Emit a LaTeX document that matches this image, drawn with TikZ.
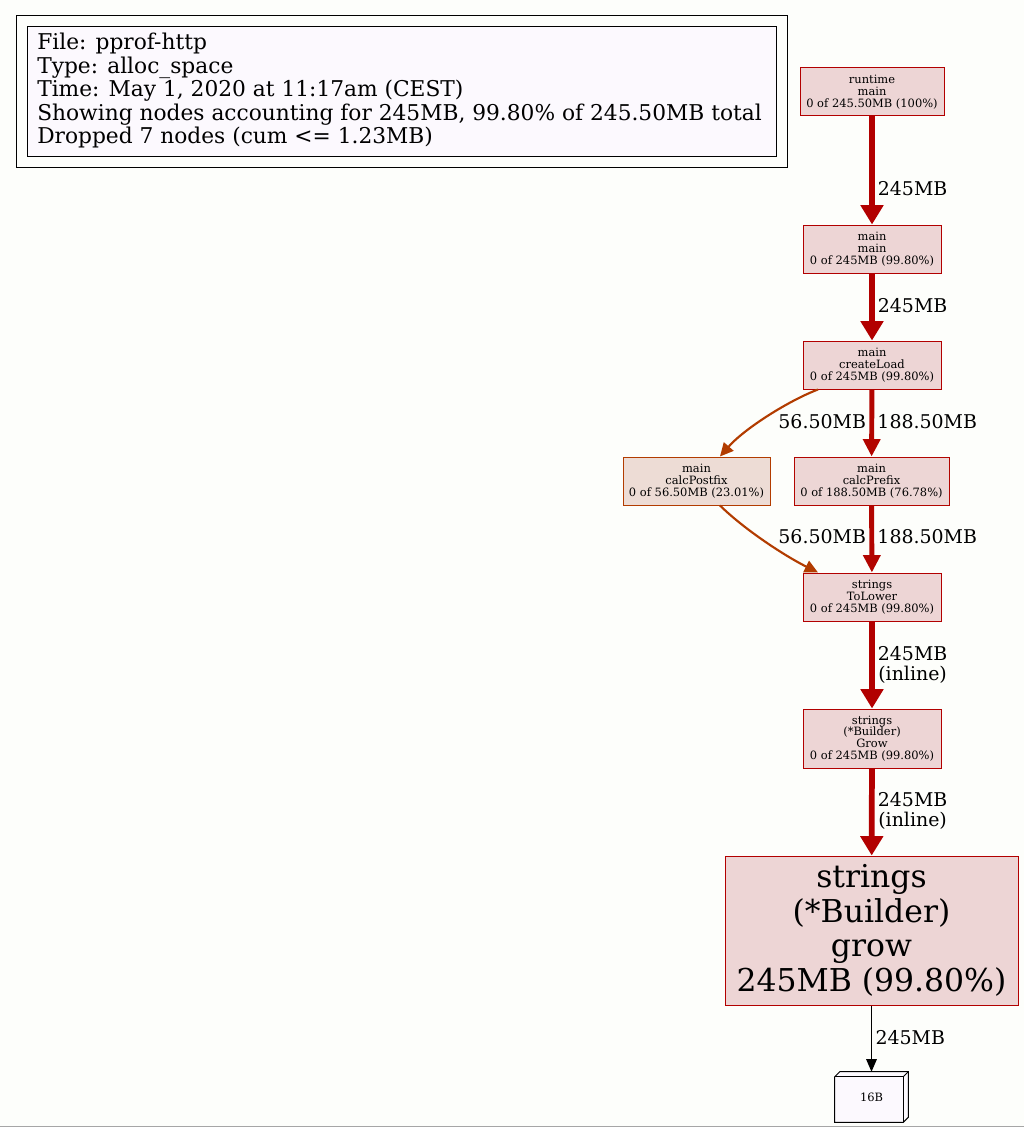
\documentclass[tikz,border=0pt]{standalone}
\usepackage{fontspec}
\setmainfont{DejaVu Serif}
\usetikzlibrary{arrows.meta}
\definecolor{bg}{HTML}{FDFEFB}
\definecolor{legfill}{HTML}{FCF9FE}
\definecolor{nred}{HTML}{B20000}
\definecolor{nfill}{HTML}{EDD5D5}
\definecolor{pred}{HTML}{B20500}
\definecolor{pfill}{HTML}{EDD6D5}
\definecolor{ored}{HTML}{B23C00}
\definecolor{ofill}{HTML}{EDDCD5}
\tikzset{
  pn/.style={draw=nred, fill=nfill, line width=0.75pt, align=center, inner sep=0pt,
    font=\fontsize{8.6}{8.8}\selectfont, minimum height=36pt},
  lbl/.style={font=\fontsize{14.2}{15}\selectfont, inner sep=0pt, align=center, anchor=west},
  e245/.style={draw=nred, line width=4.3pt, -{Triangle[length=14.5pt,width=16.5pt]}},
  e188/.style={draw=pred, line width=3.7pt, -{Triangle[length=13pt,width=12.5pt]}},
  e56/.style={draw=ored, line width=1.6pt, -{Triangle[length=10pt,width=9.5pt]}},
  ethin/.style={draw=black, line width=0.75pt, -{Triangle[length=9.5pt,width=8pt]}},
}
\begin{document}
\begin{tikzpicture}[x=0.75pt,y=-0.75pt]
\fill[bg] (0,0) rectangle (1024,1127);
\useasboundingbox (0,0) rectangle (1024,1127);
\draw[gray!70, line width=0.75pt] (0,1126) -- (1024,1126);

% legend
\node[draw=black, line width=0.75pt, minimum width=578.25pt, minimum height=114pt, inner sep=0pt] (legout) at (401.5,92) {};
\node[draw=black, fill=legfill, line width=0.75pt, minimum width=561.75pt, minimum height=97.5pt, inner sep=0pt] (legin) at (401.5,92) {};
\node[anchor=north west, inner sep=0pt, align=left, font=\fontsize{16.3}{17.6}\selectfont] (legtxt) at (37,33)
 {File: pprof-http\\Type: alloc\_space\\Time: May 1, 2020 at 11:17am (CEST)\\Showing nodes accounting for 245MB, 99.80\% of 245.50MB total\\Dropped 7 nodes (cum <= 1.23MB)};

% nodes
\node[pn, minimum width=108pt] (rm) at (872,92) {runtime\\main\\0 of 245.50MB (100\%)};
\node[pn, minimum width=103.5pt] (mm) at (872,249) {main\\main\\0 of 245MB (99.80\%)};
\node[pn, minimum width=103.5pt] (cl) at (872,365) {main\\createLoad\\0 of 245MB (99.80\%)};
\node[pn, draw=ored, fill=ofill, minimum width=110.25pt] (cpf) at (696.5,481) {main\\calcPostfix\\0 of 56.50MB (23.01\%)};
\node[pn, draw=pred, fill=pfill, minimum width=116.25pt] (cpr) at (871.5,481) {main\\calcPrefix\\0 of 188.50MB (76.78\%)};
\node[pn, minimum width=103.5pt] (tl) at (872,597) {strings\\ToLower\\0 of 245MB (99.80\%)};
\node[pn, minimum width=103.5pt, minimum height=44.25pt] (gr) at (872,738.5) {strings\\(*Builder)\\Grow\\0 of 245MB (99.80\%)};
\node[pn, minimum width=219.75pt, minimum height=111.75pt, font=\fontsize{23.6}{26}\selectfont] (big) at (871.5,930.5) {strings\\(*Builder)\\grow\\245MB (99.80\%)};

% 16B box3d
\node[minimum width=54.75pt, minimum height=37.5pt, inner sep=0pt] (b16) at (871.5,1097) {};
\filldraw[fill=legfill, draw=black, line width=0.75pt]
  ([yshift=-3.75pt]b16.north west) -- ([xshift=3.75pt]b16.north west) -- (b16.north east)
  -- ([yshift=3.75pt]b16.south east) -- ([xshift=-3.75pt]b16.south east) -- (b16.south west) -- cycle;
\draw[black, line width=0.75pt] ([yshift=-3.75pt]b16.north west) -- ([xshift=-3.75pt,yshift=-3.75pt]b16.north east)
  -- ([xshift=-3.75pt]b16.south east);
\draw[black, line width=0.75pt] ([xshift=-3.75pt,yshift=-3.75pt]b16.north east) -- (b16.north east);
\node[font=\fontsize{8.6}{8.8}\selectfont, inner sep=0pt] (b16txt) at (b16.center) {16B};

% edges
\draw[e245] (rm) -- (mm) node[lbl, at={(875,189)}] {245MB};
\draw[e245] (mm) -- (cl) node[lbl, at={(875,306)}] {245MB};
\draw[e188] (cl) -- (cpr) node[lbl, at={(875,422)}] {188.50MB};
\draw[e56] ([xshift=-40.5pt]cl.south) .. controls (790,400) and (745,428) .. ([xshift=17.6pt]cpf.north)
  node[lbl, anchor=east, at={(867,422)}] {56.50MB};
\draw[e56] ([xshift=17.6pt]cpf.south) .. controls (745,530) and (785,556) .. ([xshift=-40.5pt]tl.north)
  node[lbl, anchor=east, at={(867,537)}] {56.50MB};
\draw[e188] (cpr) -- (tl) node[lbl, at={(875,537)}] {188.50MB};
\draw[e245] (tl) -- (gr) node[lbl, at={(875,665)}] {245MB\\(inline)};
\draw[e245] (gr) -- (big) node[lbl, at={(875,811)}] {245MB\\(inline)};
\draw[ethin] (big) -- (b16.north) node[lbl, at={(875,1038)}] {245MB};
\end{tikzpicture}
\end{document}
